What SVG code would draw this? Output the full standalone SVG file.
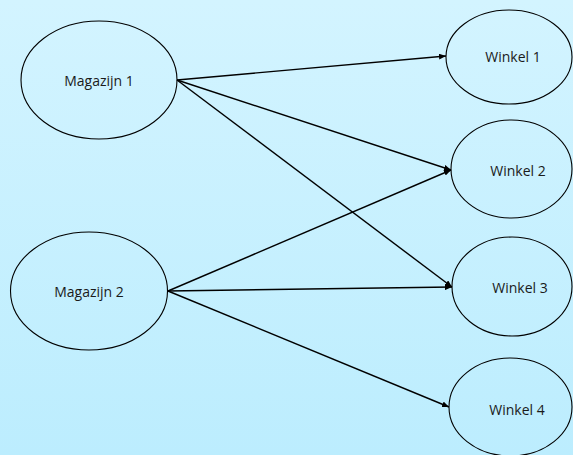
<svg xmlns="http://www.w3.org/2000/svg" width="573" height="455" viewBox="0 0 573 455">
  <defs>
    <linearGradient id="bg" x1="0" y1="0" x2="0" y2="1">
      <stop offset="0" stop-color="#d3f4ff"/>
      <stop offset="1" stop-color="#bcedfe"/>
    </linearGradient>
    <marker id="arr" markerUnits="userSpaceOnUse" markerWidth="8" markerHeight="6" refX="7" refY="3" orient="auto">
      <path d="M0,0 L7,3 L0,6 Z" fill="#000"/>
    </marker>
  </defs>
  <style>
    .node ellipse { fill: none; stroke: #000; stroke-width: 1.1; }
    .node text { font-family: "Open Sans", "Liberation Sans", sans-serif; font-size: 14px; fill: #1a1a1a; text-anchor: middle; dominant-baseline: central; }
    .edges line { stroke: #000; stroke-width: 1.4; marker-end: url(#arr); }
  </style>
  <rect x="0" y="0" width="573" height="455" fill="url(#bg)"/>
  <g class="edges" id="connectors">
    <line x1="177" y1="80" x2="446" y2="56"/>
    <line x1="177" y1="80" x2="451" y2="170"/>
    <line x1="177" y1="80" x2="452" y2="287"/>
    <line x1="168" y1="291" x2="451" y2="170"/>
    <line x1="168" y1="291" x2="452" y2="287"/>
    <line x1="168" y1="291" x2="449" y2="407"/>
  </g>
  <g class="node" id="magazijn1">
    <ellipse cx="99" cy="80" rx="78" ry="59"/>
    <text x="99" y="80">Magazijn 1</text>
  </g>
  <g class="node" id="magazijn2">
    <ellipse cx="89" cy="291" rx="78.5" ry="59"/>
    <text x="89" y="291">Magazijn 2</text>
  </g>
  <g class="node" id="winkel1">
    <ellipse cx="509" cy="57" rx="63" ry="47"/>
    <text x="513" y="56">Winkel 1</text>
  </g>
  <g class="node" id="winkel2">
    <ellipse cx="511.5" cy="169" rx="60.5" ry="49"/>
    <text x="518" y="170">Winkel 2</text>
  </g>
  <g class="node" id="winkel3">
    <ellipse cx="512" cy="286.5" rx="60" ry="49.5"/>
    <text x="520" y="287">Winkel 3</text>
  </g>
  <g class="node" id="winkel4">
    <ellipse cx="510.5" cy="407" rx="61.5" ry="49"/>
    <text x="517" y="409">Winkel 4</text>
  </g>
</svg>
